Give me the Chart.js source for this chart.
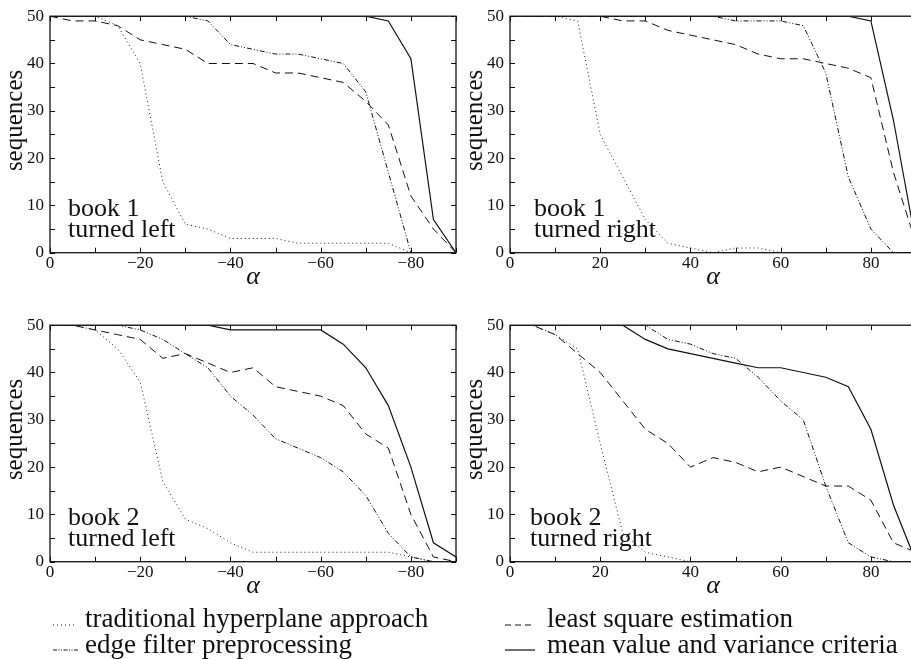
<!DOCTYPE html>
<html><head><meta charset="utf-8">
<script src="https://cdn.jsdelivr.net/npm/chart.js@4.4.1/dist/chart.umd.min.js"></script>
<style>
html,body{margin:0;padding:0;overflow:hidden;background:#fff;width:911px;height:659px}
#wrap{position:relative;width:911px;height:659px;overflow:hidden;background:#fff}
canvas{position:absolute}
svg{position:absolute;left:0;top:0}
</style></head><body>
<div id="wrap">
<canvas id="c1" width="462" height="300" style="left:0px;top:0px"></canvas>
<canvas id="c2" width="462" height="300" style="left:460px;top:0px"></canvas>
<canvas id="c3" width="462" height="300" style="left:0px;top:309px"></canvas>
<canvas id="c4" width="462" height="300" style="left:460px;top:309px"></canvas>
<svg width="911" height="659" font-family="Liberation Serif" font-size="27" fill="#111">
  <line x1="53" x2="77" y1="625" y2="625" stroke="#111" stroke-width="1" stroke-dasharray="1 3"/>
  <text x="85" y="627">traditional hyperplane approach</text>
  <line x1="53" x2="78" y1="650" y2="650" stroke="#111" stroke-width="1" stroke-dasharray="4 1.5 1 1.5 1 1.5"/>
  <text x="85" y="653">edge filter preprocessing</text>
  <line x1="505" x2="535" y1="625" y2="625" stroke="#111" stroke-width="1" stroke-dasharray="6 4"/>
  <text x="547" y="627">least square estimation</text>
  <line x1="505" x2="535" y1="650" y2="650" stroke="#111" stroke-width="1.2"/>
  <text x="547" y="653">mean value and variance criteria</text>
</svg>
</div>
<script>
// ---- data ----
const alphaLeft  = [0,-5,-10,-15,-20,-25,-30,-35,-40,-45,-50,-55,-60,-65,-70,-75,-80,-85,-90];
const alphaRight = [0,5,10,15,20,25,30,35,40,45,50,55,60,65,70,75,80,85,90];
const xLabelsLeft  = [0,-20,-40,-60,-80];
const xLabelsRight = [0,20,40,60,80];
const xMarksLeft  = [0,-10,-20,-30,-40,-50,-60,-70,-80,-90];
const xMarksRight = [0,10,20,30,40,50,60,70,80,90];
const yLabels = [0,10,20,30,40,50];
const yMarks  = [0,5,10,15,20,25,30,35,40,45,50];
const seriesNames = ['traditional hyperplane approach','least square estimation','edge filter preprocessing','mean value and variance criteria'];

// book 1 turned left
const trad1L = [50,50,50,48,40,15,6,5,3,3,3,2,2,2,2,2,0,0,0];
const lsq1L  = [50,49,49,48,45,44,43,40,40,40,38,38,37,36,32,27,12,5,0];
const edge1L = [50,50,50,50,50,50,50,49,44,43,42,42,41,40,34,17,0,0,0];
const mean1L = [50,50,50,50,50,50,50,50,50,50,50,50,50,50,50,49,41,7,0];
// book 1 turned right
const trad1R = [50,50,50,49,25,16,7,2,1,0,1,1,0,0,0,0,0,0,0];
const lsq1R  = [50,50,50,50,50,49,49,47,46,45,44,42,41,41,40,39,37,17,2];
const edge1R = [50,50,50,50,50,50,50,50,50,50,49,49,49,48,38,16,5,0,0];
const mean1R = [50,50,50,50,50,50,50,50,50,50,50,50,50,50,50,50,49,28,2];
// book 2 turned left
const trad2L = [50,50,49,45,38,17,9,7,4,2,2,2,2,2,2,2,1,0,0];
const lsq2L  = [50,50,49,48,47,43,44,42,40,41,37,36,35,33,27,24,10,1,0];
const edge2L = [50,50,50,50,49,47,44,41,35,31,26,24,22,19,14,6,1,0,0];
const mean2L = [50,50,50,50,50,50,50,50,49,49,49,49,49,46,41,33,20,4,1];
// book 2 turned right
const trad2R = [50,50,48,45,25,6,2,1,0,0,0,0,0,0,0,0,0,0,0];
const lsq2R  = [50,50,48,44,40,34,28,25,20,22,21,19,20,18,16,16,13,4,2];
const edge2R = [50,50,50,50,50,50,50,47,46,44,43,39,34,30,16,4,1,0,0];
const mean2R = [50,50,50,50,50,50,47,45,44,43,42,41,41,40,39,37,28,12,0];

// ---- styles ----
const FONT = '"Liberation Serif", "Times New Roman", serif';
const INK = '#111';
const lineStyles = [
  {dash:[1,3], width:1, color:'#222'},
  {dash:[8,5], width:1, color:'#111'},
  {dash:[5,2,1,2,1,2], width:1, color:'#111'},
  {dash:[], width:1.2, color:'#111'}
];

const decor = {
  id:'decor',
  afterDatasetsDraw(chart, args, o){
    const {ctx, chartArea:a, scales:{x, y}} = chart;
    ctx.save();
    ctx.strokeStyle = INK; ctx.lineWidth = 1;
    ctx.beginPath();
    o.xMarks.forEach(v => {
      const px = Math.round(x.getPixelForValue(v)) + 0.5;
      ctx.moveTo(px, a.bottom); ctx.lineTo(px, a.bottom - 5);
      ctx.moveTo(px, a.top); ctx.lineTo(px, a.top + 5);
    });
    o.yMarks.forEach(v => {
      const py = Math.round(y.getPixelForValue(v)) + 0.5;
      ctx.moveTo(a.left, py); ctx.lineTo(a.left + 5, py);
      ctx.moveTo(a.right, py); ctx.lineTo(a.right - 5, py);
    });
    ctx.stroke();
    ctx.lineWidth = 1.3;
    ctx.strokeRect(a.left, a.top, a.right - a.left, a.bottom - a.top);
    ctx.fillStyle = INK;
    ctx.font = '26px ' + FONT;
    ctx.textBaseline = 'alphabetic'; ctx.textAlign = 'left';
    ctx.fillText(o.line1, a.left + o.dx, a.bottom - 37);
    ctx.fillText(o.line2, a.left + o.dx, a.bottom - 16);
    ctx.translate(a.left - 28, (a.top + a.bottom) / 2 - 14);
    ctx.rotate(-Math.PI / 2);
    ctx.textAlign = 'center';
    ctx.font = '25px ' + FONT;
    ctx.fillText('sequences', 0, 0);
    ctx.restore();
  }
};

function makeChart(id, xs, sets, left, line1, line2, dx){
  const datasets = sets.map((d, i) => ({
    label: seriesNames[i],
    data: xs.map((xv, j) => ({x: xv, y: d[j]})),
    borderColor: lineStyles[i].color,
    borderWidth: lineStyles[i].width,
    borderDash: lineStyles[i].dash,
    pointRadius: 0, tension: 0, fill: false
  }));
  const xLab = left ? xLabelsLeft : xLabelsRight;
  return new Chart(document.getElementById(id), {
    type: 'line',
    data: {datasets},
    plugins: [decor],
    options: {
      responsive: false, animation: false, devicePixelRatio: 1,
      layout: {padding: {top: 12, right: 6, left: 0, bottom: 0}},
      plugins: {
        legend: {display: false}, tooltip: {enabled: false},
        decor: {xMarks: left ? xMarksLeft : xMarksRight, yMarks, line1, line2, dx}
      },
      scales: {
        x: {
          type: 'linear', min: left ? -90 : 0, max: left ? 0 : 90, reverse: left,
          grid: {display: false, drawTicks: false}, border: {display: false},
          ticks: {padding: 1, color: INK, font: {family: FONT, size: 17}, maxRotation: 0, autoSkip: false,
            callback: v => (v < 0 ? '\u2212' + Math.abs(v) : String(v))},
          title: {display: true, text: 'α', color: INK, font: {family: FONT, size: 26, style: 'italic'}, padding: {top: 0, bottom: 7}},
          afterBuildTicks: s => { s.ticks = xLab.map(v => ({value: v})); },
          afterFit: s => { s.height = 47.3; }
        },
        y: {
          type: 'linear', min: 0, max: 50,
          grid: {display: false, drawTicks: false}, border: {display: false},
          ticks: {padding: 6, color: INK, font: {family: FONT, size: 17}},
          afterBuildTicks: s => { s.ticks = yLabels.map(v => ({value: v})); },
          afterFit: s => { s.width = 50; }
        }
      }
    }
  });
}

makeChart('c1', alphaLeft,  [trad1L, lsq1L, edge1L, mean1L], true,  'book 1', 'turned left', 18);
makeChart('c2', alphaRight, [trad1R, lsq1R, edge1R, mean1R], false, 'book 1', 'turned right', 24);
makeChart('c3', alphaLeft,  [trad2L, lsq2L, edge2L, mean2L], true,  'book 2', 'turned left', 18);
makeChart('c4', alphaRight, [trad2R, lsq2R, edge2R, mean2R], false, 'book 2', 'turned right', 20);
</script>
</body></html>
